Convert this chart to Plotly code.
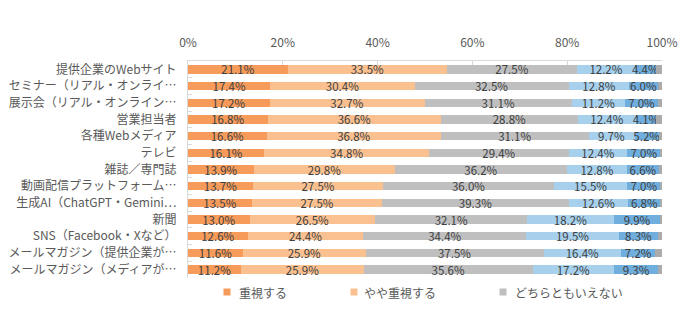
import plotly.graph_objects as go

# Media categories (top to bottom)
categories = [
    "提供企業のWebサイト",
    "セミナー（リアル・オンライ…",
    "展示会（リアル・オンライン…",
    "営業担当者",
    "各種Webメディア",
    "テレビ",
    "雑誌／専門誌",
    "動画配信プラットフォーム…",
    "生成AI（ChatGPT・Gemini…",
    "新聞",
    "SNS（Facebook・Xなど）",
    "メールマガジン（提供企業が…",
    "メールマガジン（メディアが…",
]

# Shares per answer (%)
juushi = [21.1, 17.4, 17.2, 16.8, 16.6, 16.1, 13.9, 13.7, 13.5, 13.0, 12.6, 11.6, 11.2]
yaya_juushi = [33.5, 30.4, 32.7, 36.6, 36.8, 34.8, 29.8, 27.5, 27.5, 26.5, 24.4, 25.9, 25.9]
dochiramo = [27.5, 32.5, 31.1, 28.8, 31.1, 29.4, 36.2, 36.0, 39.3, 32.1, 34.4, 37.5, 35.6]
amari = [12.2, 12.8, 11.2, 12.4, 9.7, 12.4, 12.8, 15.5, 12.6, 18.2, 19.5, 16.4, 17.2]
juushi_shinai = [4.4, 6.0, 7.0, 4.1, 5.2, 7.0, 6.6, 7.0, 6.8, 9.9, 8.3, 7.2, 9.3]
sonota = [1.3, 0.9, 0.8, 1.3, 0.6, 0.3, 0.7, 0.3, 0.3, 0.3, 0.8, 1.4, 0.8]

series = [
    ("重視する", juushi, "#F79B5B", True),
    ("やや重視する", yaya_juushi, "#FAC090", True),
    ("どちらともいえない", dochiramo, "#BFBFBF", True),
    ("あまり重視しない", amari, "#A6D0EC", True),
    ("重視しない", juushi_shinai, "#70AEDD", True),
    ("その他", sonota, "#ABABAB", False),
]

FONT = "Noto Sans CJK JP, Noto Sans, sans-serif"
W, H = 700, 327
ML, MR, MT, MB = 188, 38, 61, 49
PW, PH = W - ML - MR, H - MT - MB

fig = go.Figure()
for name, vals, color, labelled in series:
    fig.add_trace(go.Bar(
        y=categories,
        x=vals,
        name=name,
        orientation="h",
        marker=dict(color=color, line=dict(width=0)),
        text=[f"{v:.1f}%" for v in vals] if labelled else None,
        textposition="inside" if labelled else "none",
        insidetextanchor="middle",
        textangle=0,
        constraintext="none",
        textfont=dict(family=FONT, size=11.5, color="#404040"),
        cliponaxis=False,
        showlegend=False,
        hoverinfo="x+name",
    ))


def px_x(px):
    return (px - ML) / PW


def px_y(px):
    return (H - MB - px) / PH


# Legend row below the chart: small colour square + label for the first three answers
legend_sq = [227, 354, 503]     # square centres (px)
legend_tx = [237, 362, 513]     # label left edges (px)
legend_cy = 292
for (name, _, color, _), sq, tx in zip(series[:3], legend_sq, legend_tx):
    fig.add_shape(
        type="rect", xref="paper", yref="paper",
        x0=px_x(sq - 3.5), x1=px_x(sq + 3.5),
        y0=px_y(legend_cy + 3.5), y1=px_y(legend_cy - 3.5),
        fillcolor=color, line=dict(width=0),
    )
    fig.add_annotation(
        text=name, xref="paper", yref="paper",
        x=px_x(tx), y=px_y(legend_cy), xanchor="left", yanchor="middle",
        showarrow=False, font=dict(family=FONT, size=12, color="#595959"),
    )

fig.update_layout(
    width=W, height=H,
    margin=dict(l=ML, r=MR, t=MT, b=MB),
    barmode="stack",
    bargap=0.5,
    showlegend=False,
    paper_bgcolor="white",
    plot_bgcolor="white",
    uniformtext=dict(minsize=11.5, mode="show"),
    font=dict(family=FONT, color="#595959"),
    xaxis=dict(
        side="top", range=[0, 100], dtick=20, ticksuffix="%",
        showgrid=False, zeroline=False,
        showline=True, linecolor="#D9D9D9", linewidth=1,
        ticks="inside", ticklen=4, tickcolor="#D9D9D9",
        tickfont=dict(family=FONT, size=12, color="#595959"),
        ticklabelstandoff=8, fixedrange=True, automargin=False,
    ),
    yaxis=dict(
        autorange="reversed", type="category",
        showgrid=False, zeroline=False,
        showline=True, linecolor="#D9D9D9", linewidth=1,
        ticks="inside", ticklen=4, tickcolor="#D9D9D9", tickson="boundaries",
        tickfont=dict(family=FONT, size=12, color="#595959"),
        ticklabelstandoff=8, fixedrange=True, automargin=False,
    ),
)

fig.write_html("out.html")
